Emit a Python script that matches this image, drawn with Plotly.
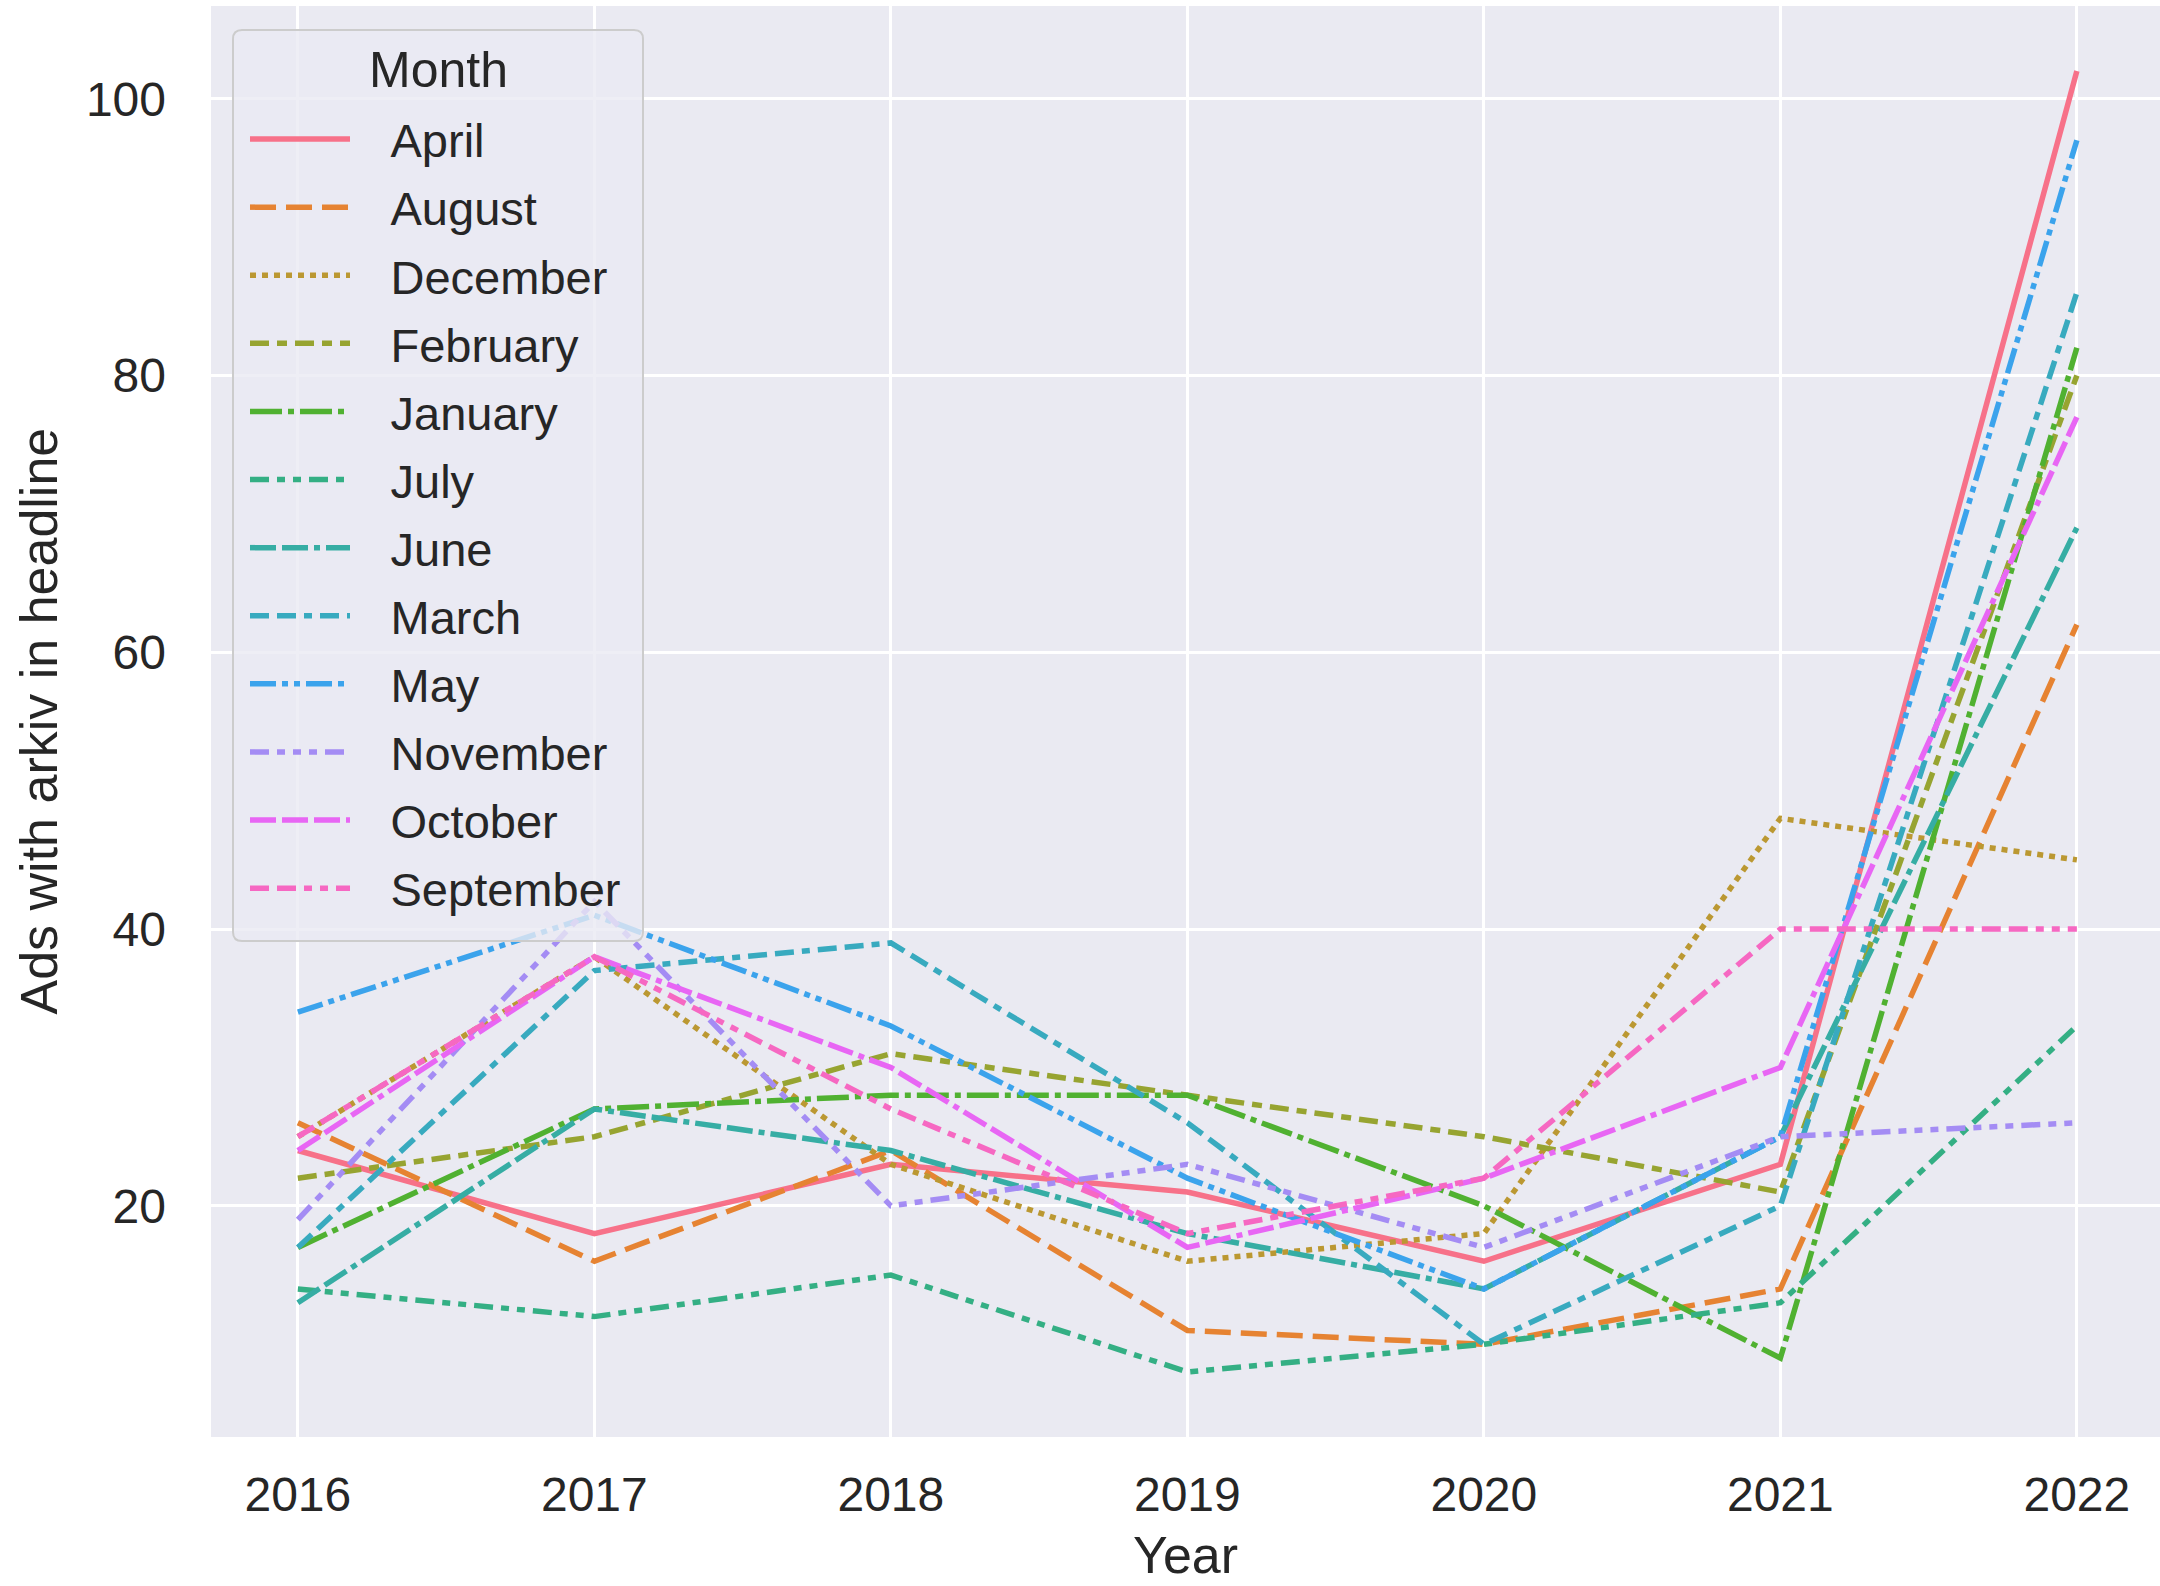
import math
import plotly.graph_objects as go

# ---------------- data ----------------
years = [2016, 2017, 2018, 2019, 2020, 2021, 2022]
year_labels = ["2016", "2017", "2018", "2019", "2020", "2021", "2022"]
months = ["April", "August", "December", "February", "January", "July",
          "June", "March", "May", "November", "October", "September"]

april = [24, 18, 23, 21, 16, 23, 102]
august = [26, 16, 24, 11, 10, 14, 62]
december = [25, 38, 23, 16, 18, 48, 45]
february = [22, 25, 31, 28, 25, 21, 80]
january = [17, 27, 28, 28, 20, 9, 82]
july = [14, 12, 15, 8, 10, 13, 33]
june = [13, 27, 24, 18, 14, 25, 69]
march = [17, 37, 39, 26, 10, 20, 86]
may = [34, 41, 33, 22, 14, 25, 97]
november = [19, 42, 20, 23, 17, 25, 26]
october = [24, 38, 30, 17, 22, 30, 77]
september = [25, 38, 27, 18, 22, 40, 40]

y_ticks = [20, 40, 60, 80, 100]

series = [april, august, december, february, january, july,
          june, march, may, november, october, september]

# ---------------- seaborn husl palette ----------------
_M = [[3.2406, -1.5372, -0.4986],
      [-0.9689, 1.8758, 0.0415],
      [0.0557, -0.2040, 1.0570]]
_refU, _refV = 0.19784, 0.46834


def _max_chroma(L, H):
    hrad = math.radians(H)
    sinH, cosH = math.sin(hrad), math.cos(hrad)
    sub1 = (L + 16) ** 3 / 1560896.0
    sub2 = sub1 if sub1 > 0.008856 else L / 903.3
    result = float("inf")
    for m1, m2, m3 in _M:
        top = (0.99915 * m1 + 1.05122 * m2 + 1.14460 * m3) * sub2
        rbottom = 0.86330 * m3 - 0.17266 * m2
        lbottom = 0.12949 * m3 - 0.38848 * m1
        bottom = (rbottom * sinH + lbottom * cosH) * sub2
        for t in (0.0, 1.0):
            C = L * (top - 1.05122 * t) / (bottom + 0.17266 * sinH * t)
            if 0.0 < C < result:
                result = C
    return result


def _husl_to_hex(H, S, L):
    C = _max_chroma(L, H) / 100.0 * S
    hr = math.radians(H)
    U, V = math.cos(hr) * C, math.sin(hr) * C
    t = (L + 16.0) / 116.0
    varY = t ** 3 if t ** 3 > 0.008856 else (116.0 * t - 16.0) / 903.3
    varU = U / (13.0 * L) + _refU
    varV = V / (13.0 * L) + _refV
    Y = varY
    X = 0.0 - (9.0 * Y * varU) / ((varU - 4.0) * varV - varU * varV)
    Z = (9.0 * Y - (15.0 * varV * Y) - (varV * X)) / (3.0 * varV)
    out = []
    for row in _M:
        c = row[0] * X + row[1] * Y + row[2] * Z
        c = 12.92 * c if c <= 0.0031308 else 1.055 * c ** (1 / 2.4) - 0.055
        c = min(max(c, 0.0), 1.0)
        out.append(int(round(c * 255)))
    return "#%02x%02x%02x" % tuple(out)


def husl_palette(n, h=0.01, s=0.9, l=0.65):
    cols = []
    for i in range(n):
        hue = ((i / n) + h) % 1 * 359
        cols.append(_husl_to_hex(hue, s * 99, l * 99))
    return cols


colors = husl_palette(len(months))

# seaborn default dash specs (in line-width units)
dash_units = [
    None,
    (4, 1.5),
    (1, 1),
    (3, 1.25, 1.5, 1.25),
    (5, 1, 1, 1),
    (3, 1.25, 1.25, 1.25, 1.25, 1.25),
    (4, 1, 4, 1, 1, 1),
    (3, 1.25, 3, 1.25, 1.25, 1.25),
    (4, 1, 1, 1, 1, 1),
    (3, 1.25, 1.25, 1.25, 1.25, 1.25, 1.25, 1.25),
    (4, 1, 4, 1, 4, 1, 1, 1),
    (3, 1.25, 3, 1.25, 1.25, 1.25, 1.25, 1.25),
]
UNIT = 6.4
LW = 5.5


def dash_string(spec):
    if spec is None:
        return "solid"
    return ",".join("%dpx" % max(1, round(v * UNIT)) for v in spec)


FONT = "Liberation Sans, Arial, sans-serif"
TEXT = "#262626"

# ---------------- layout geometry (pixels) ----------------
W, H = 2160, 1586
PL, PR, PT, PB = 211, 2160, 6, 1437          # plot area edges
PW, PH = PR - PL, PB - PT


def px_x(x):
    return (x - PL) / PW


def px_y(y):
    return (PB - y) / PH


LEGEND_PAD = "\u00a0\u00a0\u2009"

fig = go.Figure()
for name, vals, col, spec in zip(months, series, colors, dash_units):
    fig.add_trace(go.Scatter(
        x=years, y=vals, mode="lines",
        name=LEGEND_PAD + name, legendgroup=name,
        line=dict(color=col, width=LW, dash=dash_string(spec)),
    ))

# legend frame (rounded rectangle) drawn as a shape
bx0, by0, bx1, by1 = px_x(233), px_y(941), px_x(643), px_y(30)
rx, ry = 9 / PW, 9 / PH
frame_path = (
    f"M {bx0+rx},{by1} L {bx1-rx},{by1} Q {bx1},{by1} {bx1},{by1-ry} "
    f"L {bx1},{by0+ry} Q {bx1},{by0} {bx1-rx},{by0} "
    f"L {bx0+rx},{by0} Q {bx0},{by0} {bx0},{by0+ry} "
    f"L {bx0},{by1-ry} Q {bx0},{by1} {bx0+rx},{by1} Z"
)

fig.update_layout(
    width=W, height=H,
    margin=dict(l=PL, r=W - PR, t=PT, b=H - PB, autoexpand=False),
    paper_bgcolor="white",
    plot_bgcolor="#EAEAF2",
    font=dict(family=FONT, color=TEXT),
    showlegend=True,
    legend=dict(
        x=px_x(245), y=px_y(102), xanchor="left", yanchor="top",
        bgcolor="rgba(0,0,0,0)", borderwidth=0,
        font=dict(family=FONT, size=47, color=TEXT),
        tracegroupgap=4, itemwidth=100,
    ),
    shapes=[dict(type="path", path=frame_path, xref="paper", yref="paper",
                 fillcolor="rgba(234,234,242,0.8)",
                 line=dict(color="#CCCCCC", width=2), layer="above")],
    xaxis=dict(
        range=[2015.707, 2015.707 + PW / 296.5], tickvals=years, ticktext=year_labels,
        showgrid=True, gridcolor="white", gridwidth=3, zeroline=False,
        showline=False, ticks="", ticklabelstandoff=25,
        tickfont=dict(family=FONT, size=48, color=TEXT), automargin=False,
    ),
    yaxis=dict(
        range=[3.3, 106.7], tickvals=y_ticks,
        showgrid=True, gridcolor="white", gridwidth=3, zeroline=False,
        showline=False, ticks="", ticklabelstandoff=44,
        tickfont=dict(family=FONT, size=48, color=TEXT), automargin=False,
    ),
    annotations=[
        dict(text="Month", xref="paper", yref="paper", x=px_x(438), y=px_y(70),
             xanchor="center", yanchor="middle", showarrow=False,
             font=dict(family=FONT, size=50, color=TEXT)),
        dict(text="Year", xref="paper", yref="paper", x=0.5, y=px_y(1586),
             xanchor="center", yanchor="bottom", showarrow=False,
             font=dict(family=FONT, size=52, color=TEXT)),
        dict(text="Ads with arkiv in headline", xref="paper", yref="paper",
             x=px_x(38), y=0.5, xanchor="center", yanchor="middle",
             textangle=-90, showarrow=False,
             font=dict(family=FONT, size=52, color=TEXT)),
    ],
)

fig.write_html(
    "out.html",
    config={"displayModeBar": False},
    post_script="document.body.style.margin='0';document.body.style.overflow='hidden';",
)
